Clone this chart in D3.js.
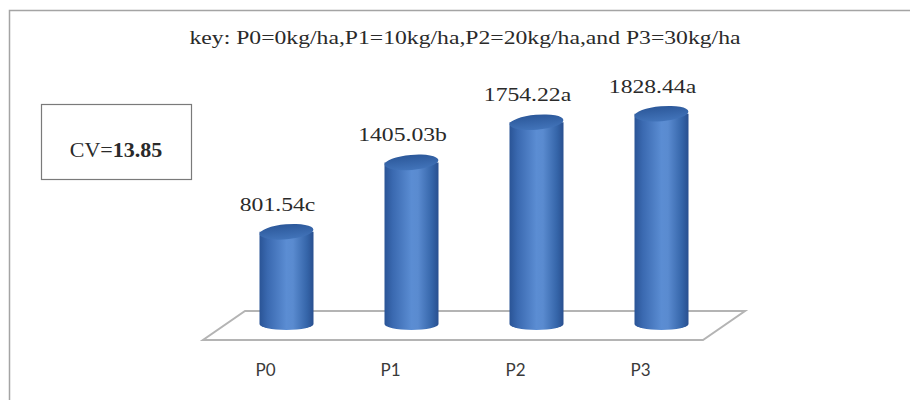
<!DOCTYPE html>
<html><head><meta charset="utf-8">
<script src="https://cdn.jsdelivr.net/npm/d3@7"></script>
<style>body{margin:0;background:#fff}svg{display:block}</style>
</head><body>
<script>
const categories = ["P0","P1","P2","P3"];
const values = [801.54, 1405.03, 1754.22, 1828.44];
const letters = ["c","b","a","a"];
const titleText = "key: P0=0kg/ha,P1=10kg/ha,P2=20kg/ha,and P3=30kg/ha";
const cvLabel = "CV=";
const cvValue = "13.85";

const W = 910, H = 400;
const svg = d3.select("body").append("svg").attr("width", W).attr("height", H);
const defs = svg.append("defs");
const g1 = defs.append("linearGradient").attr("id","body").attr("x1","0").attr("x2","1").attr("y1","0").attr("y2","0");
[[0,"#2a5496"],[0.15,"#3a69b0"],[0.5,"#5b8dd3"],[0.62,"#5a8bd0"],[0.88,"#3565a9"],[1,"#294f8f"]]
  .forEach(([o,c])=>g1.append("stop").attr("offset",o).attr("stop-color",c));
const g2 = defs.append("linearGradient").attr("id","top").attr("x1","0").attr("x2","0").attr("y1","0").attr("y2","1");
[[0,"#2c589a"],[1,"#4274ba"]].forEach(([o,c])=>g2.append("stop").attr("offset",o).attr("stop-color",c));

// frame
svg.append("path").attr("d","M9.5,400 V10.5 H910").attr("fill","none").attr("stroke","#a4a4a4").attr("stroke-width",1.5);

// stretched text helper
function stext(x, y, size, family, sx, str, opts={}) {
  const t = svg.append("text")
    .attr("transform", `translate(${x},${y}) scale(${sx},1)`)
    .attr("text-anchor", opts.anchor || "middle")
    .attr("font-family", family).attr("font-size", size)
    .attr("fill", opts.fill || "#2a2a2a");
  if (str !== null) t.text(str);
  return t;
}

// title
stext(465, 44, 18.5, "Liberation Serif", 1.28, titleText);

// CV box
svg.append("rect").attr("x",41.5).attr("y",104.5).attr("width",150).attr("height",75)
  .attr("fill","#fff").attr("stroke","#7a7a7a").attr("stroke-width",1.2);
const cv = stext(116, 157, 20, "Liberation Serif", 1.1, null);
cv.append("tspan").text(cvLabel);
cv.append("tspan").attr("font-weight","bold").text(cvValue);

// scales
const x = d3.scaleBand().domain(categories).range([203, 703]);
const depth = 42, floorBack = 311, floorFront = 340;
const y = d3.scaleLinear().domain([0, 2000]).range([324, 94]);

// floor
const x0 = x.range()[0], x1 = x.range()[1];
svg.append("path")
  .attr("d", `M${x0},${floorFront} L${x1},${floorFront} L${x1+depth},${floorBack} L${x0+depth},${floorBack} Z`)
  .attr("fill","none").attr("stroke","#b4b4b4").attr("stroke-width",2);

const rx = 27, ryTop = 7.5, ryBot = 6;
const bars = svg.append("g").selectAll("g").data(categories).join("g");
bars.each(function(c, i) {
  const gg = d3.select(this);
  const cx = x(c) + x.bandwidth()/2 + depth/2;
  const base = y(0), top = y(values[i]);
  gg.append("path")
    .attr("d", `M${cx-rx},${top} L${cx-rx},${base} A${rx},${ryBot} 0 0 0 ${cx+rx},${base} L${cx+rx},${top} Z`)
    .attr("fill","url(#body)");
  gg.append("ellipse").attr("cx",cx).attr("cy",top).attr("rx",rx).attr("ry",ryTop)
    .attr("transform",`rotate(-5,${cx},${top})`)
    .attr("fill","url(#top)");
  stext(cx - 9, top - 21, 18.5, "Liberation Serif", 1.28, values[i].toFixed(2) + letters[i]);
});

// category labels
svg.append("g").selectAll("text").data(categories).join("text")
  .attr("x", d => x(d) + x.bandwidth()/2).attr("y", 376)
  .attr("text-anchor","middle").attr("font-family","Lato").attr("font-size",17)
  .attr("fill","#3a3a3a").text(d => d);
</script>
</body></html>
